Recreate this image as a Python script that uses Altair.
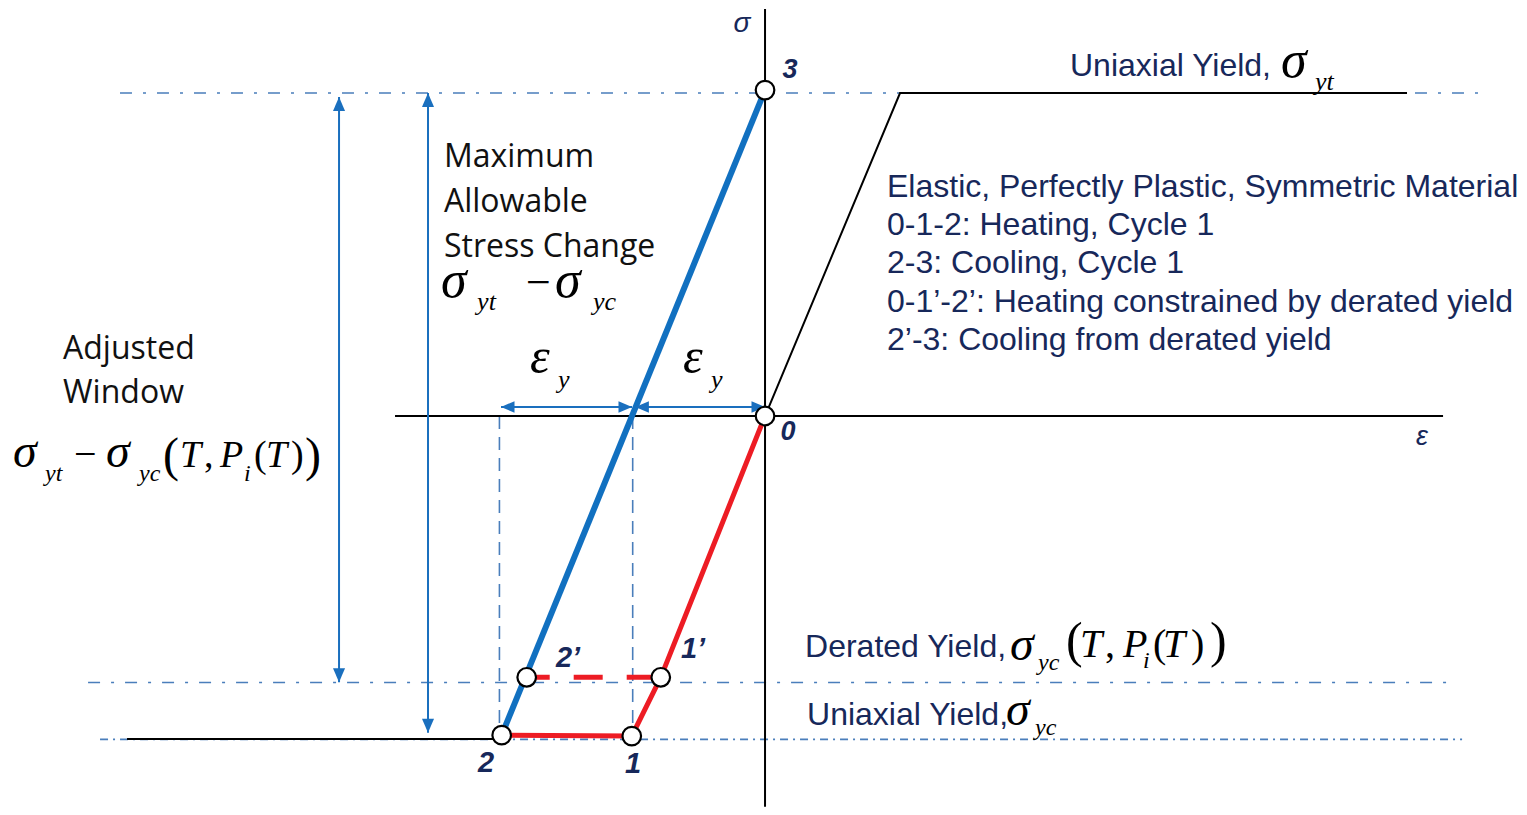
import altair as alt
import pandas as pd

# ---------------- data (strain in units of eps_y, stress in units of sigma_y) ----------------
X_DOMAIN = [-5.692, 5.669]
Y_DOMAIN = [-1.2105, 1.2632]

# coordinate axes
SIGMA_AXIS = dict(e=[0.0], s=[1.26], e2=[0.0], s2=[-1.21])
EPS_AXIS = dict(e=[-2.782], s=[0.0], e2=[5.098], s2=[0.0])

# elastic - perfectly plastic material curve (black)
EP_TENSION_EPS = [0.0, 1.015, 4.827]
EP_TENSION_SIG = [0.0, 1.0, 1.0]
EP_COMP_EPS = [-4.797, -1.99]
EP_COMP_SIG = [-1.0, -1.0]

# heating 0-1'-1-2 (red), derated plateau 2'-1' (red dashed), cooling 2-3 (blue)
HEAT_EPS = [0.0, -0.784, -1.002, -1.98]
HEAT_SIG = [0.0, -0.809, -0.991, -0.988]
DERATED_EPS = [-1.792, -0.784]
DERATED_SIG = [-0.809, -0.809]
COOL_EPS = [-1.98, 0.0]
COOL_SIG = [-0.988, 1.009]

# state points
POINT_EPS = [0.0, -0.784, -1.002, -1.98, -1.792, 0.0]
POINT_SIG = [0.0, -0.809, -0.991, -0.988, -0.809, 1.009]

# yield levels (dash-dot guides): level, start, end
YIELD_TOP = dict(s=[1.0], e=[-4.85], e2=[5.414])
YIELD_DERATED = dict(s=[-0.825], e=[-5.09], e2=[5.15])
YIELD_BOTTOM = dict(s=[-1.001], e=[-5.0], e2=[5.241])

# vertical dashed guides at -2 eps_y and -eps_y
VGUIDE_EPS = [-1.997, -0.995]
VGUIDE_TOP = [0.0, 0.0]
VGUIDE_BOT = [-1.0, -1.0]

# eps_y dimension arrows (horizontal)
HARROW_E1 = [-1.985, -0.975]
HARROW_E2 = [-1.0, 0.0]
HARROW_S = [0.028, 0.028]

# stress window arrows (vertical)
VARROW_E = [-3.203, -2.534]
VARROW_TOP = [0.988, 1.0]
VARROW_BOT = [-0.824, -0.981]

# ---------------- text ----------------
# Arial-like navy labels
SANS_TXT = ["Uniaxial Yield,",
            "Elastic, Perfectly Plastic, Symmetric Material",
            "0-1-2: Heating, Cycle 1",
            "2-3: Cooling, Cycle 1",
            "0-1’-2’: Heating constrained by derated yield",
            "2’-3: Cooling from derated yield",
            "Derated Yield,",
            "Uniaxial Yield,"]
SANS_E = [2.293, 0.917, 0.917, 0.917, 0.917, 0.917, 0.301, 0.316]
SANS_S = [1.053, 0.678, 0.560, 0.443, 0.322, 0.204, -0.746, -0.957]

# black explanatory labels
BODY_TXT = ["Maximum", "Allowable", "Stress Change", "Adjusted", "Window"]
BODY_E = [-2.414, -2.414, -2.414, -5.278, -5.278]
BODY_S = [0.771, 0.632, 0.492, 0.176, 0.040]

# point labels (bold italic)
PT_TXT = ["3", "0", "1", "2", "1’", "2’"]
PT_E = [0.188, 0.173, -0.992, -2.098, -0.541, -1.481]
PT_S = [1.046, -0.074, -1.105, -1.102, -0.749, -0.777]
PT_FS = [27, 27, 29, 29, 29, 29]

# axis symbols
AX_TXT = ["σ", "ε"]
AX_E = [-0.173, 4.940]
AX_S = [1.189, -0.090]
AX_FS = [28, 27]

# math (serif italic)
MI_TXT = ["σ", "yt",
          "σ", "yt", "σ", "yc",
          "σ", "yt", "σ", "yc", "T", "P", "i", "T",
          "ε", "y", "ε", "y",
          "σ", "yc", "T", "P", "i", "T",
          "σ", "yc"]
MI_E = [3.880, 4.135,
        -2.436, -2.165, -1.579, -1.293,
        -5.654, -5.414, -4.955, -4.707, -4.398, -4.098, -3.917, -3.752,
        -1.767, -1.556, -0.617, -0.406,
        1.842, 2.053, 2.368, 2.692, 2.842, 2.992,
        1.812, 2.030]
MI_S = [1.050, 1.009,
        0.368, 0.328, 0.368, 0.328,
        -0.158, -0.201, -0.158, -0.201, -0.158, -0.158, -0.201, -0.158,
        0.133, 0.087, 0.133, 0.087,
        -0.755, -0.786, -0.746, -0.746, -0.780, -0.746,
        -0.957, -0.988]
MI_FS = [52, 26,
         52, 26, 52, 26,
         48, 24, 48, 24, 38, 38, 24, 38,
         50, 26, 50, 26,
         48, 24, 40, 40, 24, 40,
         48, 24]

# math (serif upright)
MR_TXT = ["−",
          "−", "(", ",", "(", ")", ")",
          "(", ",", "(", ")", ")"]
MR_E = [-1.797,
        -5.195, -4.526, -4.218, -3.842, -3.564, -3.459,
        2.263, 2.556, 2.917, 3.203, 3.346]
MR_S = [0.368,
        -0.158, -0.170, -0.158, -0.158, -0.158, -0.170,
        -0.746, -0.746, -0.746, -0.746, -0.746]
MR_FS = [44,
         40, 48, 38, 38, 38, 48,
         50, 40, 40, 40, 50]

# ---------------- styling ----------------
NAVY = "#17285A"
RED = "#ED1C24"
BLUE = "#1170C0"
GUIDE = "#4A7EBB"
ARROW = "#1A6FBE"

xs = alt.Scale(domain=X_DOMAIN, nice=False, zero=False)
ys = alt.Scale(domain=Y_DOMAIN, nice=False, zero=False)


def X():
    return alt.X("e:Q", scale=xs, axis=None)


def Y():
    return alt.Y("s:Q", scale=ys, axis=None)


def polyline(eps, sig, **mk):
    df = pd.DataFrame({"e": eps, "s": sig, "i": list(range(len(eps)))})
    return alt.Chart(df).mark_line(**mk).encode(x=X(), y=Y(), order="i:Q")


def segments(d, **mk):
    df = pd.DataFrame(d)
    if "s2" not in df:
        df["s2"] = df["s"]
    if "e2" not in df:
        df["e2"] = df["e"]
    return alt.Chart(df).mark_rule(**mk).encode(
        x=X(), y=Y(), x2=alt.X2("e2:Q"), y2=alt.Y2("s2:Q"))


def texts(txt, e, s, fs, **mk):
    if not isinstance(fs, list):
        fs = [fs] * len(txt)
    df = pd.DataFrame({"t": txt, "e": e, "s": s, "fs": fs})
    return alt.Chart(df).mark_text(baseline="alphabetic", **mk).encode(
        x=X(), y=Y(), text="t:N", size=alt.Size("fs:Q", scale=None))


ARROW_PATH = "M0,0L-1,-0.43L-1,0.43Z"   # tip at origin, pointing right


def heads(e, s, ang, size):
    df = pd.DataFrame({"e": e, "s": s, "a": ang})
    return alt.Chart(df).mark_point(shape=ARROW_PATH, filled=True, color=ARROW,
                                    opacity=1, size=size, strokeWidth=0).encode(
        x=X(), y=Y(), angle=alt.Angle("a:Q", scale=None))


layers = []
# dash-dot yield guides
layers.append(segments(YIELD_TOP, color=GUIDE, strokeWidth=1.6, strokeDash=[12, 11, 3, 11]))
layers.append(segments(YIELD_DERATED, color=GUIDE, strokeWidth=1.6, strokeDash=[12, 11, 3, 11]))
layers.append(segments(YIELD_BOTTOM, color=GUIDE, strokeWidth=1.6, strokeDash=[8, 5, 2, 5]))
# vertical dashed guides
layers.append(segments(dict(e=VGUIDE_EPS, s=VGUIDE_TOP, s2=VGUIDE_BOT),
                       color=GUIDE, strokeWidth=1.6, strokeDash=[13, 8]))
# axes
layers.append(segments(SIGMA_AXIS, color="#000000", strokeWidth=2))
layers.append(segments(EPS_AXIS, color="#000000", strokeWidth=2))
# material curve
layers.append(polyline(EP_TENSION_EPS, EP_TENSION_SIG, color="#000000", strokeWidth=2))
layers.append(polyline(EP_COMP_EPS, EP_COMP_SIG, color="#000000", strokeWidth=2))
# load paths
layers.append(polyline(HEAT_EPS, HEAT_SIG, color=RED, strokeWidth=5, strokeJoin="round"))
layers.append(polyline(DERATED_EPS, DERATED_SIG, color=RED, strokeWidth=5,
                       strokeDash=[29, 24], strokeDashOffset=6))
layers.append(polyline(COOL_EPS, COOL_SIG, color=BLUE, strokeWidth=6))
# dimension arrows
layers.append(segments(dict(e=HARROW_E1, e2=HARROW_E2, s=HARROW_S), color=ARROW, strokeWidth=2))
layers.append(heads(HARROW_E1 + HARROW_E2, HARROW_S + HARROW_S,
                    [180, 180, 0, 0], 729))
layers.append(segments(dict(e=VARROW_E, s=VARROW_TOP, s2=VARROW_BOT), color=ARROW, strokeWidth=2))
layers.append(heads(VARROW_E + VARROW_E, VARROW_TOP + VARROW_BOT,
                    [270, 270, 90, 90], 784))
# state points
pts = pd.DataFrame({"e": POINT_EPS, "s": POINT_SIG})
layers.append(alt.Chart(pts).mark_point(shape="circle", filled=True, fill="white",
                                         stroke="black", strokeWidth=2.2, size=346,
                                         opacity=1).encode(x=X(), y=Y()))
# text
layers.append(texts(SANS_TXT, SANS_E, SANS_S, 32, font="Liberation Sans",
                    align="left", color=NAVY))
layers.append(texts(BODY_TXT, BODY_E, BODY_S, 32, font="Open Sans",
                    align="left", color="#111111"))
layers.append(texts(PT_TXT, PT_E, PT_S, PT_FS, font="Liberation Sans",
                    fontStyle="italic", fontWeight="bold", align="center", color=NAVY))
layers.append(texts(AX_TXT, AX_E, AX_S, AX_FS, font="Liberation Sans",
                    fontStyle="italic", align="center", color=NAVY))
layers.append(texts(MI_TXT, MI_E, MI_S, MI_FS, font="Liberation Serif",
                    fontStyle="italic", align="left", color="#000000"))
layers.append(texts(MR_TXT, MR_E, MR_S, MR_FS, font="Liberation Serif",
                    align="left", color="#000000"))

chart = alt.layer(*layers).properties(
    width=1511, height=799,
    autosize=alt.AutoSizeParams(type="none"),
    padding=0, background="white",
).configure_view(stroke=None)

chart.save("out.html", embed_options={"renderer": "svg", "actions": False})
